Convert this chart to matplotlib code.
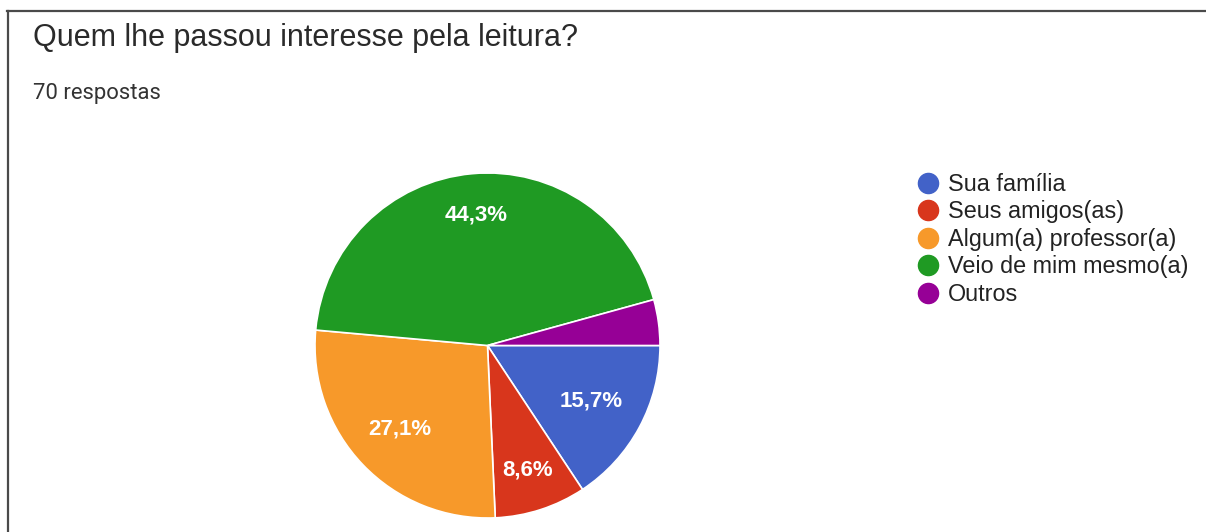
import matplotlib.pyplot as plt
from matplotlib.lines import Line2D
import numpy as np

W, H = 1206, 532

titulo = 'Quem lhe passou interesse pela leitura?'
subtitulo = '70 respostas'
categorias = ['Sua família', 'Seus amigos(as)', 'Algum(a) professor(a)',
              'Veio de mim mesmo(a)', 'Outros']
respostas = [11, 6, 19, 31, 3]
cores = ['#4262c8', '#d8361c', '#f7992a', '#1f9a23', '#960096']

fig = plt.figure(figsize=(W / 100, H / 100), dpi=100)
fig.patch.set_facecolor('white')

# moldura do cartão (só topo e lado esquerdo aparecem)
fig.add_artist(Line2D([7 / W, 1], [1 - 10.5 / H, 1 - 10.5 / H], color='#4a4a4a', lw=1.6))
fig.add_artist(Line2D([7.5 / W, 7.5 / W], [0, 1 - 10.5 / H], color='#4a4a4a', lw=1.6))

fig.text(33 / W, 1 - 46 / H, titulo, fontsize=22, family='Liberation Sans',
         color='#2a2a2a', va='baseline')
fig.text(33 / W, 1 - 98.5 / H, subtitulo, fontsize=15.8, family='Roboto',
         color='#333333', va='baseline')

# pizza: centro (487.5, 345.5), raio 172.5 px
cx, cy, r = 487.5, H - 345.5, 172.5
ax = fig.add_axes([(cx - r) / W, (cy - r) / H, 2 * r / W, 2 * r / H])


def rotulo(p):
    return f'{p:.1f}%'.replace('.', ',') if p >= 5 else ''


wedges, textos, autotextos = ax.pie(
    respostas, colors=cores, startangle=0, counterclock=False,
    autopct=rotulo, wedgeprops=dict(edgecolor='white', linewidth=1.2),
    textprops=dict(color='white', fontsize=16, family='Liberation Sans',
                   weight='bold'))

dist_rotulo = [0.68, 0.76, 0.70, 0.76, 0.7]
for w, t, d in zip(wedges, autotextos, dist_rotulo):
    ang = np.deg2rad((w.theta1 + w.theta2) / 2)
    t.set_position((d * np.cos(ang), d * np.sin(ang)))
ax.set_xlim(-1, 1)
ax.set_ylim(-1, 1)

# legenda
handles = [Line2D([], [], marker='o', ls='none', markersize=14.5,
                  markerfacecolor=c, markeredgecolor=c) for c in cores]
fig.legend(handles, categorias, loc='upper left',
           bbox_to_anchor=(914 / W, 1 - 173 / H), frameon=False,
           prop=dict(family='Liberation Sans', size=16.8), labelspacing=0.19,
           handletextpad=0.25, handlelength=1.2, borderpad=0, borderaxespad=0,
           labelcolor='#222222')

fig.savefig('out.png', dpi=100)
